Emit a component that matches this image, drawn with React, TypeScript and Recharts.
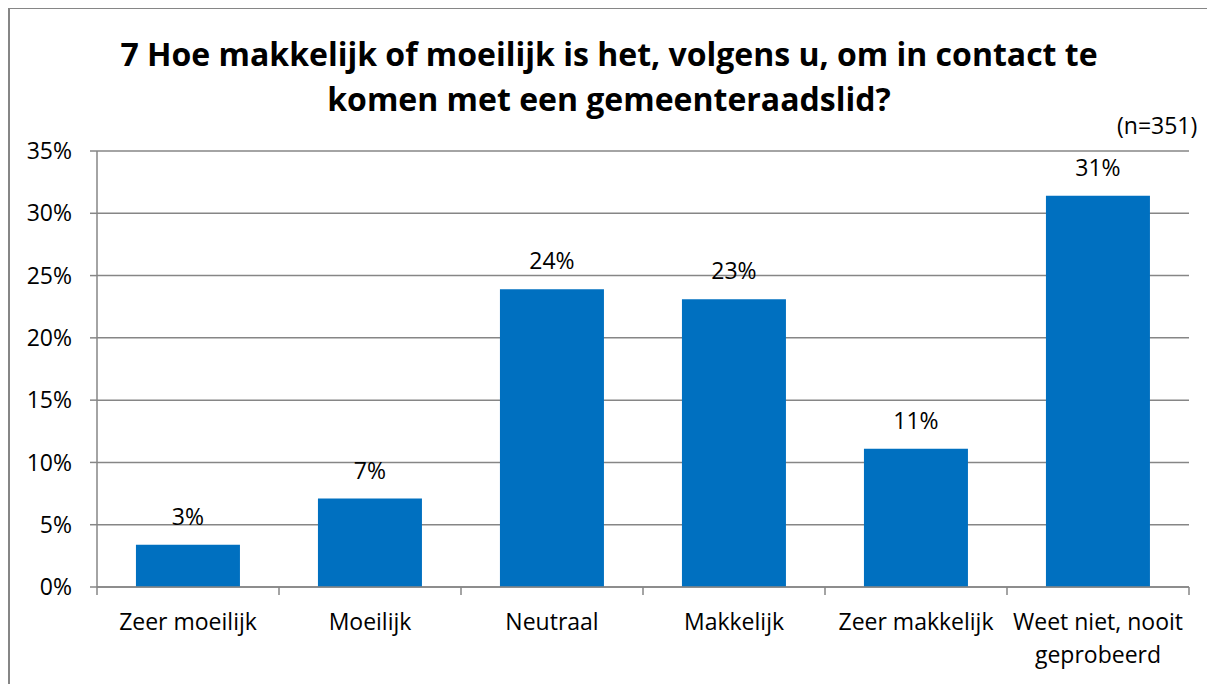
import React from 'react';
import { BarChart, Bar, XAxis, YAxis, CartesianGrid, LabelList } from 'recharts';

const categories = ['Zeer moeilijk', 'Moeilijk', 'Neutraal', 'Makkelijk', 'Zeer makkelijk', 'Weet niet, nooit geprobeerd'];
const percentages = [3.4, 7.1, 23.9, 23.1, 11.1, 31.4];
const yTicks = [0, 5, 10, 15, 20, 25, 30, 35];

const FONT = '"Open Sans", "Noto Sans", sans-serif';
const FONT_SIZE = 23;
const GRID = '#868686';
const TICK_MARGIN = 26;

const data = categories.map((name, i) => ({ name, value: percentages[i] }));

// greedy word wrap, measured with a canvas
let ctx: CanvasRenderingContext2D | null = null;
const wrap = (label: string, maxWidth: number): string[] => {
  if (!ctx) {
    ctx = document.createElement('canvas').getContext('2d');
  }
  if (!ctx) return [label];
  ctx.font = `${FONT_SIZE}px ${FONT}`;
  const lines: string[] = [];
  let line = '';
  label.split(' ').forEach((word) => {
    const test = line ? `${line} ${word}` : word;
    if (line && ctx!.measureText(test).width > maxWidth) {
      lines.push(line);
      line = word;
    } else {
      line = test;
    }
  });
  if (line) lines.push(line);
  return lines;
};

const CategoryTick = (props: any) => {
  const { x, y, payload, index, visibleTicksCount } = props;
  const half = payload.offset || 91;
  const axisY = y - TICK_MARGIN;
  const isLast = index === (visibleTicksCount ?? categories.length) - 1;
  const lines = wrap(String(payload.value), half * 2 - 4);
  return (
    <g>
      <line x1={x - half} x2={x - half} y1={axisY} y2={axisY + 8} stroke={GRID} strokeWidth={1.5} />
      {isLast && <line x1={x + half} x2={x + half} y1={axisY} y2={axisY + 8} stroke={GRID} strokeWidth={1.5} />}
      <text x={x} y={y} textAnchor="middle" fontSize={FONT_SIZE} fontFamily={FONT} fill="#000">
        {lines.map((l, i) => (
          <tspan key={i} x={x} dy={i === 0 ? '0.72em' : 33}>
            {l}
          </tspan>
        ))}
      </text>
    </g>
  );
};

export default function App() {
  return (
    <div
      style={{
        position: 'relative',
        width: 1205,
        height: 675,
        borderTop: `2px solid ${GRID}`,
        borderLeft: `2px solid ${GRID}`,
        marginTop: -1,
        fontFamily: FONT,
        background: '#fff',
      }}
    >
      <div
        style={{
          position: 'absolute',
          top: 22,
          left: 0,
          width: 1198,
          textAlign: 'center',
          fontWeight: 700,
          fontSize: 32,
          lineHeight: '45px',
          color: '#000',
        }}
      >
        7 Hoe makkelijk of moeilijk is het, volgens u, om in contact te
        <br />
        komen met een gemeenteraadslid?
      </div>
      <div style={{ position: 'absolute', top: 100, left: 1107, fontSize: FONT_SIZE, color: '#000' }}>(n=351)</div>
      <div style={{ position: 'absolute', top: -2, left: -1 }}>
        <BarChart
          width={1198}
          height={680}
          data={data}
          margin={{ top: 144, right: 18, bottom: 30, left: 28 }}
          barCategoryGap="21.4%"
        >
          <CartesianGrid vertical={false} stroke={GRID} strokeWidth={1.5} />
          <XAxis
            dataKey="name"
            interval={0}
            height={70}
            axisLine={{ stroke: GRID, strokeWidth: 1.5 }}
            tickLine={false}
            tickSize={0}
            tickMargin={TICK_MARGIN}
            tick={<CategoryTick />}
          />
          <YAxis
            width={60}
            domain={[0, 35]}
            ticks={yTicks}
            interval={0}
            tickFormatter={(v: number) => `${v}%`}
            axisLine={{ stroke: GRID, strokeWidth: 1.5 }}
            tickLine={{ stroke: GRID, strokeWidth: 1.5 }}
            tickSize={7}
            tickMargin={18}
            tick={{ fill: '#000', fontSize: FONT_SIZE, fontFamily: FONT }}
          />
          <Bar dataKey="value" fill="#0070C0" isAnimationActive={false}>
            <LabelList
              dataKey="value"
              position="top"
              offset={20}
              formatter={(v: any) => `${Math.round(Number(v))}%`}
              style={{ fill: '#000', fontSize: FONT_SIZE, fontFamily: FONT }}
            />
          </Bar>
        </BarChart>
      </div>
    </div>
  );
}
